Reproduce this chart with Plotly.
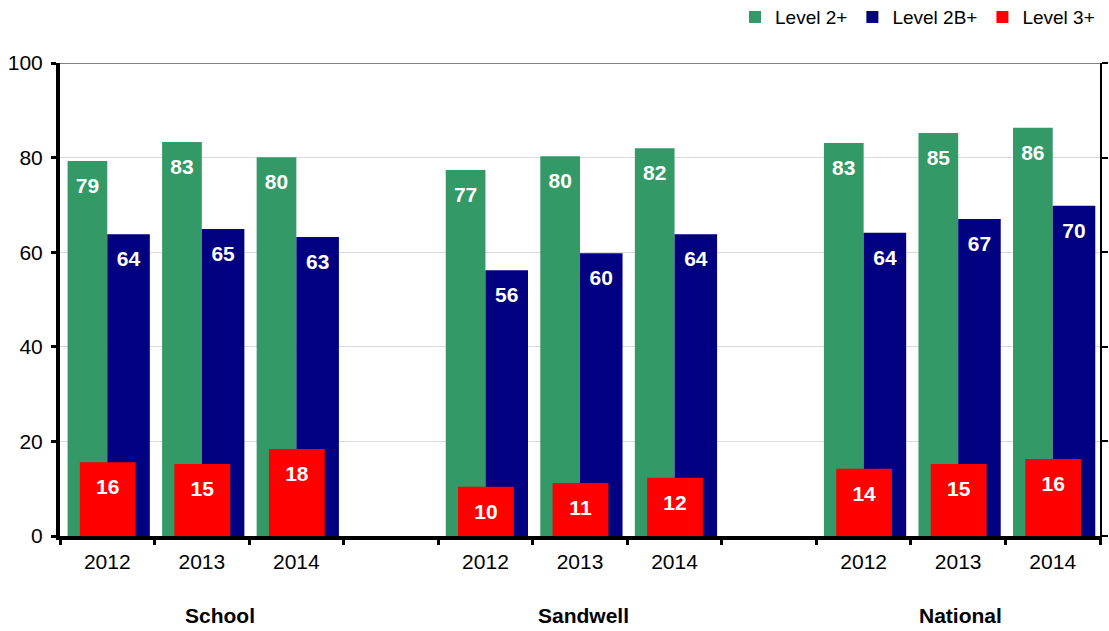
import plotly.graph_objects as go

years = ["2012", "2013", "2014", "", "2012", "2013", "2014", "", "2012", "2013", "2014"]
groups = ["School", "Sandwell", "National"]
group_pos = [1.19, 5.04, 9.02]

level2 = [79.3, 83.3, 80.1, None, 77.4, 80.3, 82.0, None, 83.1, 85.2, 86.3]
level2b = [63.8, 64.9, 63.2, None, 56.2, 59.8, 63.8, None, 64.1, 67.0, 69.8]
level3 = [15.6, 15.2, 18.4, None, 10.4, 11.2, 12.3, None, 14.2, 15.2, 16.3]

xs = list(range(len(years)))
FONT = "Liberation Sans, Arial, sans-serif"

series = [
    ("Level 2+", level2, "#339966", -0.42, 0.42),
    ("Level 2B+", level2b, "#000080", 0.0, 0.45),
    ("Level 3+", level3, "#FF0000", -0.29, 0.59),
]


def labels(vals):
    return [("" if v is None else f"{round(v):d}") for v in vals]


fig = go.Figure()
for name, vals, col, off, w in series:
    fig.add_bar(x=xs, y=vals, name=name, marker_color=col, marker_line_width=0,
                offset=off, width=w)
for name, vals, col, off, w in series:
    fig.add_scatter(x=[x + off + w / 2 for x in xs], y=vals, mode="markers+text",
                    text=labels(vals), textposition="bottom center",
                    marker=dict(size=24, opacity=0), showlegend=False, hoverinfo="skip",
                    textfont=dict(color="white", size=21, family=FONT, weight="bold"),
                    cliponaxis=False)
fig.add_scatter(x=[0], y=[0], yaxis="y2", mode="markers", marker_opacity=0,
                showlegend=False, hoverinfo="skip")

for g, p in zip(groups, group_pos):
    fig.add_annotation(x=p, y=-0.168, xref="x", yref="paper", text=g, showarrow=False,
                       font=dict(size=21, family=FONT, color="black", weight="bold"),
                       yanchor="middle")

fig.add_shape(type="line", xref="paper", yref="y", x0=0, x1=1, y0=100, y1=100,
              line=dict(color="#808080", width=2), layer="below")

fig.update_layout(
    width=1109, height=631,
    margin=dict(l=60, r=9, t=63, b=95, autoexpand=False),
    barmode="overlay",
    plot_bgcolor="white", paper_bgcolor="white",
    font=dict(family=FONT, size=21, color="black"),
    legend=dict(orientation="h", x=1.0, xanchor="right", y=1.097, yanchor="middle",
                font=dict(size=19, family=FONT), traceorder="normal",
                itemwidth=30, tracegroupgap=0),
    xaxis=dict(range=[-0.5, 10.5], tickmode="array", tickvals=xs, ticktext=years,
               ticks="", showline=True, linecolor="black", linewidth=4,
               showgrid=False, zeroline=False, ticklabelstandoff=4, automargin=False,
               tickfont=dict(size=21),
               minor=dict(tickmode="array", tickvals=[i - 0.5 for i in range(12)],
                          ticks="outside", ticklen=5, tickwidth=3, tickcolor="black",
                          showgrid=False)),
    yaxis=dict(range=[0, 100], tickvals=[0, 20, 40, 60, 80, 100], showline=True,
               linecolor="black", linewidth=4, ticks="outside", ticklen=5, tickwidth=3,
               tickcolor="black", gridcolor="#d9d9d9", gridwidth=1, zeroline=False,
               tickfont=dict(size=21), ticklabelstandoff=4, automargin=False),
    yaxis2=dict(range=[0, 100], overlaying="y", side="right", tickvals=[0, 20, 40, 60, 80, 100],
                showticklabels=False, ticks="outside", ticklen=6, tickwidth=1.5,
                tickcolor="black", showline=True, linecolor="black", linewidth=1.5,
                showgrid=False, zeroline=False, automargin=False),
)

fig.write_html("out.html", config={"displayModeBar": False},
               post_script="document.body.style.margin='0';document.body.style.overflow='hidden';")
